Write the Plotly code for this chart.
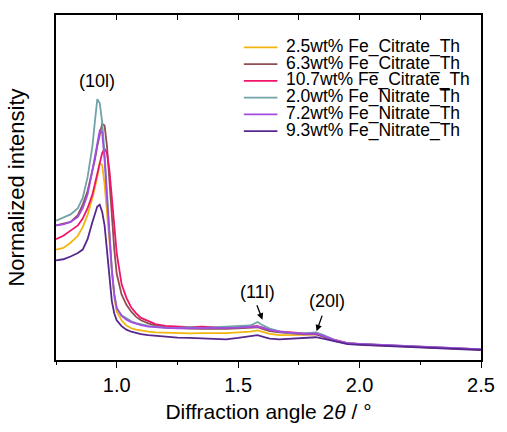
import plotly.graph_objects as go

# ---------------- data ----------------
angle = [0.75, 0.78, 0.81, 0.84, 0.86, 0.88, 0.90, 0.91, 0.92, 0.93, 0.94, 0.95,
         0.96, 0.97, 0.98, 0.99, 1.00, 1.02, 1.04, 1.06, 1.08, 1.10, 1.13, 1.16,
         1.20, 1.25, 1.30, 1.35, 1.40, 1.45, 1.50, 1.55, 1.58, 1.60, 1.63, 1.67,
         1.72, 1.77, 1.82, 1.85, 1.90, 1.95, 2.00, 2.10, 2.20, 2.30, 2.40, 2.50]

citrate_2_5 = [.320, .325, .340, .360, .385, .420, .470, .500, .530, .570, .565, .510,
               .430, .350, .250, .180, .140, .115, .100, .092, .088, .085, .082, .080,
               .079, .078, .077, .078, .077, .078, .080, .082, .086, .082, .076, .072,
               .072, .073, .075, .069, .056, .048, .045, .042, .039, .036, .033, .030]

citrate_6_3 = [.390, .395, .400, .420, .450, .490, .550, .580, .620, .655, .685, .680,
               .620, .520, .410, .320, .250, .190, .160, .140, .125, .115, .106, .100,
               .095, .092, .091, .090, .089, .090, .092, .094, .095, .090, .084, .080,
               .076, .074, .074, .068, .055, .048, .046, .042, .039, .036, .033, .030]

citrate_10_7 = [.350, .360, .375, .390, .410, .440, .480, .510, .540, .570, .600, .612,
                .600, .550, .470, .390, .310, .220, .180, .152, .135, .122, .112, .104,
                .099, .096, .095, .097, .095, .094, .096, .097, .098, .094, .088, .083,
                .079, .077, .077, .071, .058, .049, .046, .043, .040, .037, .034, .031]

nitrate_2_0 = [.404, .412, .422, .440, .470, .530, .620, .690, .756, .745, .690, .600,
               .490, .370, .260, .190, .150, .130, .120, .112, .107, .103, .099, .097,
               .094, .093, .095, .093, .095, .096, .098, .100, .110, .101, .091, .083,
               .078, .077, .080, .073, .057, .049, .047, .043, .040, .037, .034, .031]

nitrate_7_2 = [.390, .393, .400, .415, .440, .480, .550, .590, .630, .665, .660, .580,
               .470, .360, .260, .190, .150, .128, .117, .110, .105, .101, .097, .095,
               .093, .092, .092, .091, .092, .093, .094, .095, .097, .093, .087, .082,
               .078, .076, .077, .070, .056, .049, .047, .043, .040, .037, .034, .031]

nitrate_9_3 = [.289, .292, .300, .310, .320, .350, .400, .425, .445, .450, .430, .390,
               .310, .230, .170, .135, .115, .098, .088, .082, .078, .075, .072, .070,
               .068, .065, .064, .063, .061, .060, .064, .068, .072, .068, .062, .060,
               .062, .064, .066, .062, .053, .046, .044, .041, .038, .035, .032, .029]

series_names = ["2.5wt% Fe_Citrate_Th", "6.3wt% Fe_Citrate_Th", "10.7wt% Fe_Citrate_Th",
                "2.0wt% Fe_Nitrate_Th", "7.2wt% Fe_Nitrate_Th", "9.3wt% Fe_Nitrate_Th"]
series_values = [citrate_2_5, citrate_6_3, citrate_10_7, nitrate_2_0, nitrate_7_2, nitrate_9_3]
series_colors = ["#F2B50F", "#8E4E52", "#F2136A", "#70A2A8", "#A24DE2", "#56288F"]

x_ticks = [1.0, 1.5, 2.0, 2.5]
x_tick_labels = ["1.0", "1.5", "2.0", "2.5"]

peak_labels = ["(10l)", "(11l)", "(20l)"]
peak_label_x = [0.92, 1.58, 1.865]
peak_label_y = [0.808, 0.198, 0.170]

# ---------------- figure ----------------
fig = go.Figure()
for name, vals, col in zip(series_names, series_values, series_colors):
    fig.add_trace(go.Scatter(x=angle, y=vals, mode="lines", name=name,
                             line=dict(color=col, width=1.8), showlegend=False))

# dummy trace for the top (mirrored) axis with inward ticks
fig.add_trace(go.Scatter(x=[0.75, 2.5], y=[0, 0], xaxis="x2", mode="lines",
                         line=dict(width=0), hoverinfo="skip", showlegend=False))

font_family = "Arial, Liberation Sans, sans-serif"

fig.update_layout(
    width=507, height=432,
    margin=dict(l=56, r=17, t=15, b=68),
    paper_bgcolor="white", plot_bgcolor="white",
    font=dict(family=font_family, color="black"),
    xaxis=dict(range=[0.75, 2.5], tickvals=x_ticks, ticktext=x_tick_labels,
               ticks="outside", ticklen=6, tickwidth=1.2, tickcolor="black",
               minor=dict(tick0=0.75, dtick=0.25, ticks="outside", ticklen=3,
                          tickwidth=1.2, tickcolor="black"),
               showline=True, linecolor="black", linewidth=1.5, mirror=True,
               showgrid=False, zeroline=False, tickfont=dict(size=20),
               ticklabeloverflow="allow",
               title=dict(text="Diffraction angle 2<i>θ</i> / °",
                          font=dict(size=21), standoff=10)),
    xaxis2=dict(range=[0.75, 2.5], overlaying="x", side="top",
                tickvals=x_ticks, ticks="inside", ticklen=5, tickwidth=1.2,
                tickcolor="black", showticklabels=False,
                minor=dict(tick0=0.75, dtick=0.25, ticks="inside", ticklen=5,
                           tickwidth=1.2, tickcolor="black"),
                showline=False, showgrid=False, zeroline=False),
    yaxis=dict(range=[0, 1], showticklabels=False, ticks="",
               showline=True, linecolor="black", linewidth=1.5, mirror=True,
               showgrid=False, zeroline=False,
               title=dict(text="Normalized intensity", font=dict(size=22), standoff=24)),
)

# peak labels with arrows
fig.add_annotation(x=peak_label_x[0], y=peak_label_y[0], text=peak_labels[0],
                   showarrow=False, font=dict(size=18))
fig.add_annotation(x=1.60, y=0.117, ax=peak_label_x[1] - 0.005, ay=0.163,
                   axref="x", ayref="y", text="", showarrow=True,
                   arrowhead=2, arrowsize=1, arrowwidth=1.3, arrowcolor="black")
fig.add_annotation(x=peak_label_x[1], y=peak_label_y[1], text=peak_labels[1],
                   showarrow=False, font=dict(size=18))
fig.add_annotation(x=1.823, y=0.083, ax=1.848, ay=0.133,
                   axref="x", ayref="y", text="", showarrow=True,
                   arrowhead=2, arrowsize=1, arrowwidth=1.3, arrowcolor="black")
fig.add_annotation(x=peak_label_x[2], y=peak_label_y[2], text=peak_labels[2],
                   showarrow=False, font=dict(size=18))

# manual legend (compact rows, as in the reference)
leg_x0, leg_x1, leg_tx = 0.442, 0.521, 0.537
leg_y_top, leg_dy = 0.906, 0.0485
for i, (name, col) in enumerate(zip(series_names, series_colors)):
    yy = leg_y_top - i * leg_dy
    fig.add_shape(type="line", xref="paper", yref="paper", x0=leg_x0, x1=leg_x1,
                  y0=yy, y1=yy, line=dict(color=col, width=1.8))
    fig.add_annotation(xref="paper", yref="paper", x=leg_tx, y=yy, text=name,
                       xanchor="left", yanchor="middle", showarrow=False,
                       font=dict(size=17.5), yshift=1)

# pin the figure to the window's top-left corner (no default page margin / scrolling)
pin_script = (
    "var d=document.getElementById('{plot_id}');"
    "d.style.position='fixed';d.style.left='0px';d.style.top='0px';"
    "document.body.style.margin='0';"
    "document.documentElement.style.overflow='hidden';"
)
fig.write_html("out.html", config={"displayModeBar": False}, post_script=pin_script)
